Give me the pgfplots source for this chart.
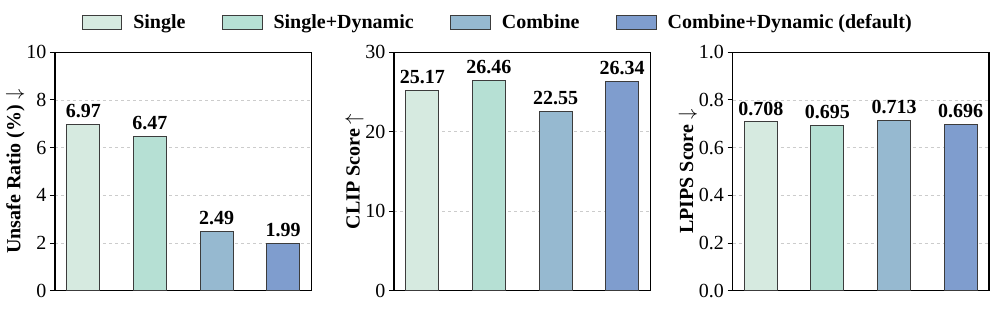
\documentclass[border=0pt]{standalone}
\usepackage{fontspec}
\setmainfont{Liberation Serif}
\usepackage{pgfplots}
\pgfplotsset{compat=1.18}
\definecolor{cA}{RGB}{214,234,224}
\definecolor{cB}{RGB}{182,224,212}
\definecolor{cC}{RGB}{150,185,208}
\definecolor{cD}{RGB}{127,157,206}
\definecolor{edge}{RGB}{60,60,60}
\pgfplotsset{
 mybar/.style={
  scale only axis, width=256.5pt, height=238.4pt,
  xmin=-0.425, xmax=3.425, ymin=0,
  xtick=\empty, ytick pos=left, tick align=outside, major tick length=5pt,
  ymajorgrids, major grid style={dashed, black!20, line width=0.6pt},
  axis line style={line width=1.1pt},
  every tick/.style={black, line width=1pt},
  ybar, bar width=33pt, bar shift=0pt,
  every axis plot/.append style={draw=edge, line width=1pt},
  nodes near coords, point meta=explicit symbolic,
  nodes near coords style={font=\fontsize{20}{24}\selectfont\bfseries, black, inner sep=2pt, yshift=4pt},
  tick label style={font=\fontsize{20}{24}\selectfont},
  /pgf/number format/assume math mode=true,
  ylabel style={font=\fontsize{20}{24}\selectfont\bfseries},
  ylabel shift=-5pt,
  clip=false,
 }
}
\begin{document}
\begin{tikzpicture}
\path[use as bounding box] (-55pt,-18.3pt) rectangle (941pt,290.7pt);
\begin{axis}[mybar, at={(0pt,0pt)}, anchor=south west, ymax=10, ytick={0,2,4,6,8,10},
  ylabel={Unsafe Ratio (\%) $\downarrow$}]
\addplot[fill=cA] coordinates {(0,6.97) [6.97]};
\addplot[fill=cB] coordinates {(1,6.47) [6.47]};
\addplot[fill=cC] coordinates {(2,2.49) [2.49]};
\addplot[fill=cD] coordinates {(3,1.99) [1.99]};
\end{axis}
\begin{axis}[mybar, at={(339pt,0pt)}, anchor=south west, ymax=30, ytick={0,10,20,30},
  ylabel={CLIP Score $\uparrow$},
  legend style={at={(0.351,1.127)}, anchor=center, legend columns=4, draw=none,
    font=\fontsize{20}{24}\selectfont\bfseries,
    nodes={inner sep=0pt}, column sep=11pt},
  legend image code/.code={\path[draw=none,fill=none] (-26pt,0pt) -- (0pt,0pt);\draw[#1, line width=1pt] (0pt,-7pt) rectangle (39.5pt,7pt);}]
\addplot[fill=cA] coordinates {(0,25.17) [25.17]};
\addplot[fill=cB] coordinates {(1,26.46) [26.46]};
\addplot[fill=cC] coordinates {(2,22.55) [22.55]};
\addplot[fill=cD] coordinates {(3,26.34) [26.34]};
\legend{Single, Single+Dynamic, Combine, Combine+Dynamic (default)}
\end{axis}
\begin{axis}[mybar, at={(677.5pt,0pt)}, anchor=south west, ymax=1, ytick={0,0.2,0.4,0.6,0.8,1.0},
  yticklabel style={/pgf/number format/.cd, fixed, fixed zerofill, precision=1},
  ylabel={LPIPS Score $\downarrow$}]
\addplot[fill=cA] coordinates {(0,0.708) [0.708]};
\addplot[fill=cB] coordinates {(1,0.695) [0.695]};
\addplot[fill=cC] coordinates {(2,0.713) [0.713]};
\addplot[fill=cD] coordinates {(3,0.696) [0.696]};
\end{axis}
\end{tikzpicture}
\end{document}
